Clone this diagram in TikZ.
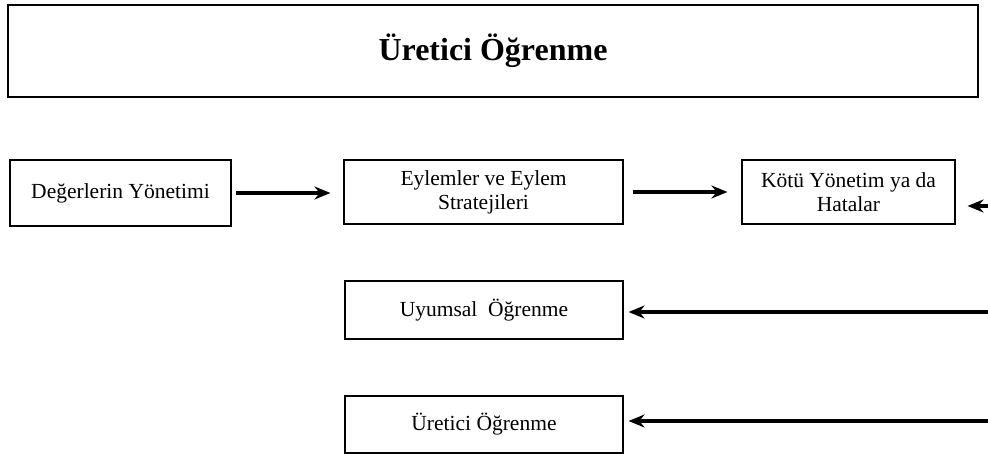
\documentclass[tikz,border=0pt]{standalone}
\usepackage{fontspec}
\setmainfont{Liberation Serif}
\usetikzlibrary{arrows.meta}
\begin{document}
\begin{tikzpicture}[x=1pt,y=-1pt,
  box/.style={draw, line width=1.1pt, inner sep=0pt, align=center,
    font=\fontsize{21.5}{24}\selectfont},
  arr/.style={line width=3.4pt, -{Stealth[length=16pt,width=13pt]}}]
\useasboundingbox (0,0) rectangle (988,454);
\node[box, minimum width=970pt, minimum height=92pt,
  font=\fontsize{32}{36}\selectfont\bfseries] (T) at (493,51) {Üretici Öğrenme};
\node[box, minimum width=221pt, minimum height=66pt] (A) at (120.5,193) {Değerlerin Yönetimi};
\node[box, minimum width=279pt, minimum height=64pt] (B) at (483.5,192) {Eylemler ve Eylem\\Stratejileri};
\node[box, minimum width=213pt, minimum height=64pt] (C) at (848.5,192) {Kötü Yönetim ya da\\Hatalar};
\node[box, minimum width=278pt, minimum height=58pt] (D) at (484,310) {Uyumsal\ \ Öğrenme};
\node[box, minimum width=278pt, minimum height=57pt] (E) at (484,424.5) {Üretici Öğrenme};
\coordinate (r1) at (988,206);
\coordinate (r2) at (988,312);
\coordinate (r3) at (988,421);
\draw[arr, shorten <=4pt, shorten >=13pt] (A.east) -- (B.west |- A.east);
\draw[arr, shorten <=9pt, shorten >=14pt] (B.east) -- (C.west);
\draw[arr, shorten >=12pt] (r1) -- (C.east |- r1);
\draw[arr, shorten >=5pt] (r2) -- (D.east |- r2);
\draw[arr, shorten >=5pt] (r3) -- (E.east |- r3);
\end{tikzpicture}
\end{document}
